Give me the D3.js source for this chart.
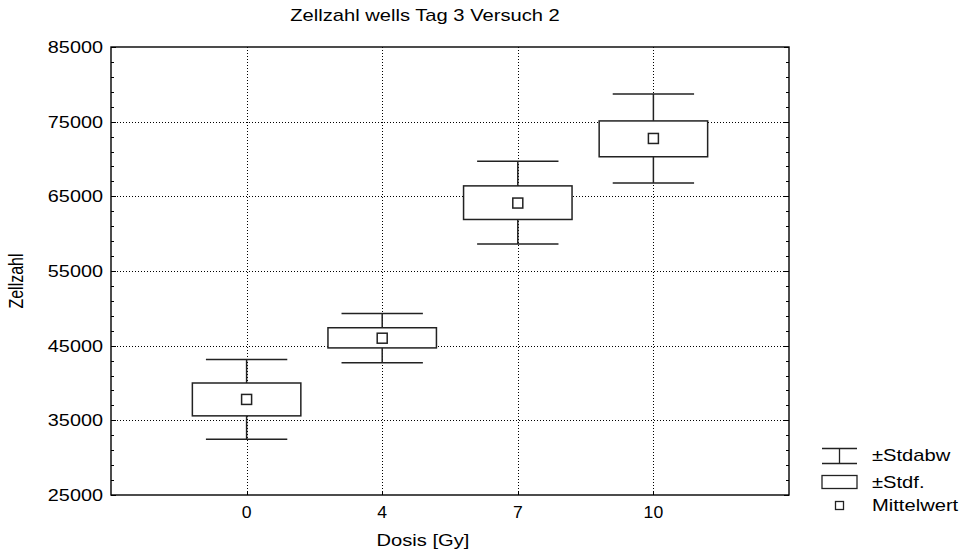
<!DOCTYPE html>
<html>
<head>
<meta charset="utf-8">
<script src="https://cdn.jsdelivr.net/npm/d3@7"></script>
<style>
  body { margin: 0; background: #fff; }
  text { font-family: "Liberation Sans", Arial, sans-serif; fill: #000; }
</style>
</head>
<body>
<div id="chart"></div>
<script>
// ==== Daten ====
const doses   = ['0', '4', '7', '10'];
const means   = [37800, 46000, 64100, 72750];
const seLow   = [35600, 44700, 61900, 70300];
const seHigh  = [40000, 47400, 66400, 75100];
const sdLow   = [32450, 42700, 58600, 66800];
const sdHigh  = [43150, 49300, 69700, 78700];
const yTicks  = [25000, 35000, 45000, 55000, 65000, 75000, 85000];

const W = 963, H = 557;
const margin = { top: 47, right: 174, bottom: 62, left: 111 };
const x0 = margin.left, x1 = W - margin.right;
const y0 = H - margin.bottom, y1 = margin.top;
const SX = 1.26; // Text horizontal gestreckt wie im Original

const svg = d3.select('#chart').append('svg')
  .attr('width', W).attr('height', H);

const x = d3.scalePoint().domain(doses).range([x0, x1]).padding(1);
const y = d3.scaleLinear().domain([25000, 85000]).range([y0, y1]);
const step = x.step();

const txt = (g, tx, ty, s, anchor, sx = SX, rot = 0) =>
  g.append('text')
    .attr('transform', `translate(${tx},${ty}) scale(${sx},1)` + (rot ? ` rotate(${rot})` : ''))
    .attr('text-anchor', anchor)
    .style('font-size', '16px')
    .text(s);

// Gitter
const grid = svg.append('g')
  .attr('stroke', '#000').attr('stroke-width', 1).attr('stroke-dasharray', '1,2');
grid.selectAll('line.h').data(yTicks.slice(1, -1)).join('line')
  .attr('x1', x0).attr('x2', x1)
  .attr('y1', d => Math.round(y(d)) + 0.5).attr('y2', d => Math.round(y(d)) + 0.5);
grid.selectAll('line.v').data(doses).join('line')
  .attr('x1', d => Math.round(x(d)) + 0.5).attr('x2', d => Math.round(x(d)) + 0.5)
  .attr('y1', y1).attr('y2', y0);

// Minor ticks (beide Seiten, innen)
const minor = d3.range(25000, 85001, 2000);
const ax = svg.append('g').attr('stroke', '#000').attr('stroke-width', 1);
ax.selectAll('line.ml').data(minor).join('line')
  .attr('x1', x0).attr('x2', d => x0 + (yTicks.includes(d) ? 5 : 3))
  .attr('y1', d => Math.round(y(d)) + 0.5).attr('y2', d => Math.round(y(d)) + 0.5);
ax.selectAll('line.mr').data(minor).join('line')
  .attr('x1', x1).attr('x2', d => x1 - (yTicks.includes(d) ? 5 : 3))
  .attr('y1', d => Math.round(y(d)) + 0.5).attr('y2', d => Math.round(y(d)) + 0.5);
ax.selectAll('line.xt').data(doses).join('line')
  .attr('x1', d => Math.round(x(d)) + 0.5).attr('x2', d => Math.round(x(d)) + 0.5)
  .attr('y1', y0).attr('y2', y0 - 4);

// Rahmen
svg.append('rect')
  .attr('x', x0).attr('y', y1).attr('width', x1 - x0).attr('height', y0 - y1)
  .attr('fill', 'none').attr('stroke', '#000').attr('stroke-width', 1.4);

// Tick-Beschriftungen
yTicks.forEach(v => txt(svg, x0 - 8, y(v) + 6, v, 'end', 1.24));
doses.forEach(d => txt(svg, x(d), y0 + 23, d, 'middle', 1.1));

// Achsentitel + Titel
txt(svg, 425, 21, 'Zellzahl wells Tag 3 Versuch 2', 'middle');
txt(svg, 423, 546, 'Dosis [Gy]', 'middle');
txt(svg, 23, 281, 'Zellzahl', 'middle', SX, -90);

// Boxen
const boxW = step * 0.8, capW = step * 0.6;
const g = svg.append('g').attr('stroke', '#222').attr('stroke-width', 1.5);
doses.forEach((d, i) => {
  const cx = x(d);
  g.append('line').attr('x1', cx).attr('x2', cx).attr('y1', y(sdHigh[i])).attr('y2', y(seHigh[i]));
  g.append('line').attr('x1', cx).attr('x2', cx).attr('y1', y(seLow[i])).attr('y2', y(sdLow[i]));
  g.append('line').attr('x1', cx - capW / 2).attr('x2', cx + capW / 2).attr('y1', y(sdHigh[i])).attr('y2', y(sdHigh[i]));
  g.append('line').attr('x1', cx - capW / 2).attr('x2', cx + capW / 2).attr('y1', y(sdLow[i])).attr('y2', y(sdLow[i]));
  g.append('rect')
    .attr('x', cx - boxW / 2).attr('y', y(seHigh[i]))
    .attr('width', boxW).attr('height', y(seLow[i]) - y(seHigh[i]))
    .attr('fill', '#fff');
  g.append('rect')
    .attr('x', cx - 5).attr('y', y(means[i]) - 5).attr('width', 10).attr('height', 10)
    .attr('fill', '#fff');
});

// Legende
const lg = svg.append('g').attr('stroke', '#222').attr('stroke-width', 1.3).attr('fill', 'none');
lg.append('line').attr('x1', 822).attr('x2', 857).attr('y1', 448.5).attr('y2', 448.5);
lg.append('line').attr('x1', 822).attr('x2', 857).attr('y1', 463.5).attr('y2', 463.5);
lg.append('line').attr('x1', 839.5).attr('x2', 839.5).attr('y1', 448.5).attr('y2', 463.5);
lg.append('rect').attr('x', 822).attr('y', 475.5).attr('width', 35).attr('height', 13);
lg.append('rect').attr('x', 835.5).attr('y', 501.5).attr('width', 8).attr('height', 8);
txt(svg, 872, 461, '±Stdabw', 'start');
txt(svg, 872, 488, '±Stdf.', 'start');
txt(svg, 872, 511, 'Mittelwert', 'start');
</script>
</body>
</html>
